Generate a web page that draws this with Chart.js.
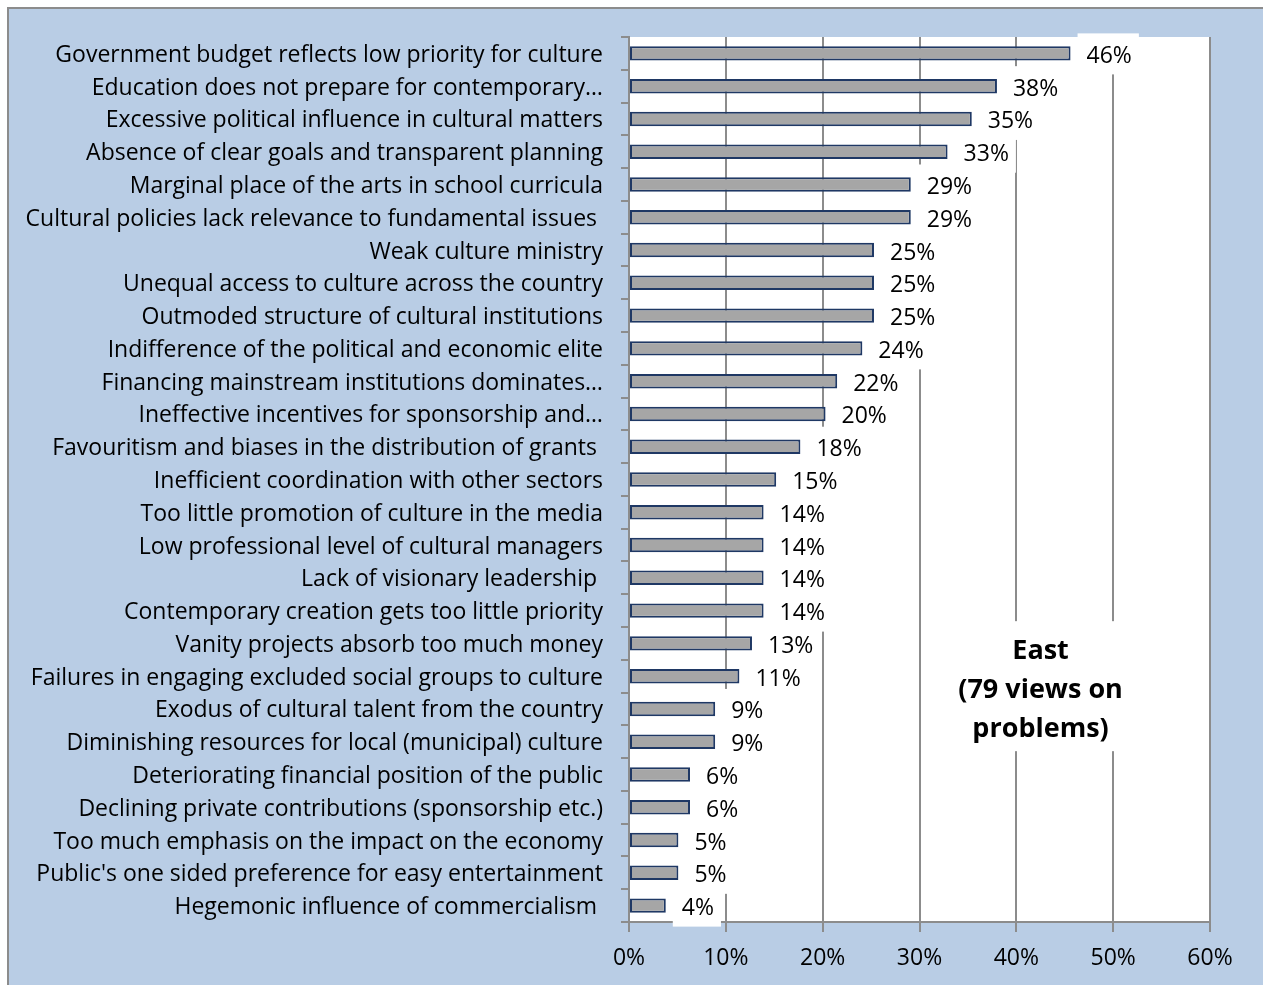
<!DOCTYPE html>
<html>
<head>
<meta charset="utf-8">
<script src="https://cdn.jsdelivr.net/npm/chart.js@4.4.1/dist/chart.umd.min.js"></script>
<style>
  html, body { margin: 0; padding: 0; background: #fff; }
  #wrap { position: absolute; left: 0; top: 0; width: 1263px; height: 985px; }
</style>
</head>
<body>
<div id="wrap"><canvas id="chart" width="1263" height="985"></canvas></div>
<script>
// Data
const categories = [
  'Government budget reflects low priority for culture',
  'Education does not prepare for contemporary…',
  'Excessive political influence in cultural matters',
  'Absence of clear goals and transparent planning',
  'Marginal place of the arts in school curricula',
  'Cultural policies lack relevance to fundamental issues ',
  'Weak culture ministry',
  'Unequal access to culture across the country',
  'Outmoded structure of cultural institutions',
  'Indifference of the political and economic elite',
  'Financing mainstream institutions dominates…',
  'Ineffective incentives for sponsorship and…',
  'Favouritism and biases in the distribution of grants ',
  'Inefficient coordination with other sectors',
  'Too little promotion of culture in the media',
  'Low professional level of cultural managers',
  'Lack of visionary leadership ',
  'Contemporary creation gets too little priority',
  'Vanity projects absorb too much money',
  'Failures in engaging excluded social groups to culture',
  'Exodus of cultural talent from the country',
  'Diminishing resources for local (municipal) culture',
  'Deteriorating financial position of the public',
  'Declining private contributions (sponsorship etc.)',
  'Too much emphasis on the impact on the economy',
  "Public's one sided preference for easy entertainment",
  'Hegemonic influence of commercialism '
];
const shares = [45.6, 38.0, 35.4, 32.9, 29.1, 29.1, 25.3, 25.3, 25.3, 24.1, 21.5, 20.3, 17.7,
  15.2, 13.9, 13.9, 13.9, 13.9, 12.7, 11.4, 8.9, 8.9, 6.3, 6.3, 5.1, 5.1, 3.8];
const xTicks = [0, 10, 20, 30, 40, 50, 60];
const titleLines = ['East', '(79 views on', 'problems)'];

const FONT = '"Open Sans", Lato, sans-serif';
const GRID = '#8c8c8c';

// Background: white page, blue chart frame, white plot area
const backgroundPlugin = {
  id: 'background',
  beforeDraw(chart) {
    const { ctx, width, height, chartArea } = chart;
    ctx.save();
    ctx.fillStyle = '#fff';
    ctx.fillRect(0, 0, width, height);
    ctx.fillStyle = '#b9cde5';
    ctx.fillRect(8, 8, width - 8, height - 8);
    ctx.strokeStyle = '#8c8c8c';
    ctx.lineWidth = 2;
    ctx.beginPath();
    ctx.moveTo(8, height);
    ctx.lineTo(8, 8);
    ctx.lineTo(width, 8);
    ctx.stroke();
    ctx.fillStyle = '#fff';
    ctx.fillRect(chartArea.left, chartArea.top, chartArea.right - chartArea.left, chartArea.bottom - chartArea.top);
    ctx.restore();
  }
};

// Value labels with white boxes, plus the boxed title
const labelPlugin = {
  id: 'valueLabels',
  afterDraw(chart) {
    const { ctx } = chart;
    const bars = chart.getDatasetMeta(0).data;
    ctx.save();
    ctx.font = '23px ' + FONT;
    ctx.textBaseline = 'middle';
    ctx.textAlign = 'left';
    const items = bars.map((bar, i) => {
      const text = Math.round(shares[i]) + '%';
      const w = ctx.measureText(text).width;
      return { text, x: bar.x + 7, y: bar.y, w };
    });
    ctx.fillStyle = '#fff';
    items.forEach(it => ctx.fillRect(it.x, it.y - 20, it.w + 16, 41));
    ctx.fillStyle = '#000';
    items.forEach(it => ctx.fillText(it.text, it.x + 9, it.y + 3));

    // title
    const xs = chart.scales.x, ys = chart.scales.y;
    const cx = xs.getPixelForValue(42.5);
    const cy = ys.getPixelForValue(19) + 13;
    ctx.fillStyle = '#fff';
    ctx.fillRect(cx - 92, cy - 68, 184, 130);
    ctx.fillStyle = '#000';
    ctx.font = 'bold 27px ' + FONT;
    ctx.textAlign = 'center';
    titleLines.forEach((line, i) => ctx.fillText(line, cx, cy - 38 + i * 39));
    ctx.restore();
  }
};

new Chart(document.getElementById('chart'), {
  type: 'bar',
  data: {
    labels: categories,
    datasets: [{
      data: shares,
      backgroundColor: '#a6a6a6',
      borderColor: '#1f3864',
      borderWidth: 2,
      borderSkipped: false,
      categoryPercentage: 1,
      barPercentage: 0.44
    }]
  },
  options: {
    indexAxis: 'y',
    responsive: false,
    animation: false,
    layout: { padding: { top: 37, right: 53, left: 0, bottom: 0 } },
    plugins: {
      legend: { display: false },
      tooltip: { enabled: false }
    },
    scales: {
      x: {
        min: 0,
        max: 60,
        afterBuildTicks: scale => { scale.ticks = xTicks.map(v => ({ value: v })); },
        afterFit: scale => { scale.height = 63; },
        ticks: {
          callback: v => v + '%',
          color: '#000',
          font: { family: FONT, size: 23 },
          padding: 13,
          maxRotation: 0
        },
        grid: { color: GRID, lineWidth: 2, tickLength: 10 },
        border: { color: GRID, width: 2 }
      },
      y: {
        afterFit: scale => { scale.width = 629; },
        ticks: {
          color: '#000',
          font: { family: FONT, size: 23 },
          padding: 18,
          labelOffset: 2,
          autoSkip: false
        },
        grid: { drawOnChartArea: false, color: GRID, lineWidth: 2, tickLength: 8, offset: true },
        border: { color: GRID, width: 2 }
      }
    }
  },
  plugins: [backgroundPlugin, labelPlugin]
});
</script>
</body>
</html>
